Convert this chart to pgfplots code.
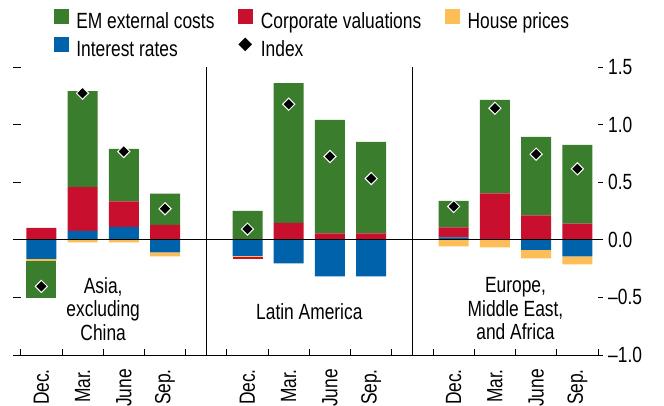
\documentclass[border=0pt]{standalone}
\usepackage{fontspec}
\setmainfont{Liberation Sans}[FakeStretch=0.79]
\usepackage{pgfplots}
\usepackage{pgfplotstable}
\pgfplotsset{compat=1.18}
\definecolor{emg}{RGB}{58,125,44}
\definecolor{cvr}{RGB}{200,16,46}
\definecolor{irb}{RGB}{0,98,170}
\definecolor{hpy}{RGB}{253,190,87}

% x: 0-3 Asia, 5-8 Latin America, 10-13 Europe/ME/Africa
\pgfplotstableread{
x  bpos  rpos  gpos  bneg    yneg    rneg    gneg    idx
0  0     0.104 0     -0.165  -0.018  0       -0.318  -0.405
1  0.078 0.380 0.833 0       -0.023  0       0       1.272
2  0.113 0.220 0.457 0       -0.023  0       0       0.766
3  0     0.130 0.270 -0.110  -0.035  0       0       0.269
5  0     0     0.250 -0.139  -0.010  -0.015  0       0.093
6  0     0.147 1.213 -0.205  0       0       0       1.177
7  0     0.055 0.985 -0.318  0       0       0       0.723
8  0     0.055 0.795 -0.318  0       0       0       0.532
10 0.020 0.087 0.231 0       -0.058  0       0       0.289
11 0     0.402 0.812 0       -0.066  0       0       1.142
12 0     0.211 0.682 -0.087  -0.075  0       0       0.743
13 0     0.141 0.683 -0.145  -0.069  0       0       0.616
}\data

\pgfplotsset{
  base/.style={at={(13pt,51pt)}, anchor=south west, scale only axis,
    width=585pt, height=288pt, xmin=-0.687, xmax=13.5, ymin=-1, ymax=1.5,
    clip=false, tick style={black, line width=0.8pt}},
}

\begin{document}
\fontsize{22}{26}\selectfont
\begin{tikzpicture}[font=\fontsize{22}{26}\selectfont]
\path[use as bounding box] (0,0) rectangle (664pt,406pt);

% negative parts + left ticks
\begin{axis}[base, ybar stacked, bar width=30pt,
  axis x line=none, axis y line*=left, y axis line style={draw=none},
  ytick={-1,-0.5,0,0.5,1,1.5}, yticklabels={}, tick align=inside,
  major tick length=8pt]
\addplot[fill=irb, draw=none] table[x=x,y=bneg]{\data};
\addplot[fill=hpy, draw=none] table[x=x,y=yneg]{\data};
\addplot[fill=cvr, draw=none] table[x=x,y=rneg]{\data};
\addplot[fill=emg, draw=none] table[x=x,y=gneg]{\data};
\end{axis}

% positive parts + x axis line and boundary ticks
\begin{axis}[base, ybar stacked, bar width=30pt,
  axis y line=none, axis x line*=bottom, x axis line style={line width=0.8pt},
  xtick={-0.5,0.5,1.5,2.5,3.5,4.5,5.5,6.5,7.5,8.5,9.5,10.5,11.5,12.5,13.5},
  xticklabels={}, tick align=inside, major tick length=6pt]
\addplot[fill=irb, draw=none] table[x=x,y=bpos]{\data};
\addplot[fill=cvr, draw=none] table[x=x,y=rpos]{\data};
\addplot[fill=emg, draw=none] table[x=x,y=gpos]{\data};
\end{axis}

% index, labels, legend
\begin{axis}[base,
  axis x line*=bottom, x axis line style={draw=none},
  axis y line*=right, y axis line style={draw=none},
  xtick={0,1,2,3,5,6,7,8,10,11,12,13},
  xticklabels={Dec.,Mar.,June,Sep.,Dec.,Mar.,June,Sep.,Dec.,Mar.,June,Sep.},
  x tick style={draw=none},
  xticklabel style={yshift=-9pt, rotate=90, anchor=east, inner sep=0pt},
  ytick={-1,-0.5,0,0.5,1,1.5},
  yticklabels={–1.0,–0.5,0.0,0.5,1.0,1.5},
  tick align=outside, major tick length=5pt,
  yticklabel style={inner sep=0pt, xshift=5pt},
  legend columns=3, legend cell align=left,
  legend style={at={(0.070,1.2014)}, anchor=north west, draw=none, fill=none,
    inner sep=0pt, outer sep=0pt, column sep=0pt, row sep=3pt,
    nodes={inner sep=0pt, text height=16pt, text depth=5pt},
    /tikz/every odd column/.append style={column sep=8pt},
    /tikz/every even column/.append style={column sep=24pt}},
]
\addlegendimage{legend image code/.code={\fill[emg] (0pt,0pt) rectangle (14pt,14pt);}}
\addlegendentry{EM external costs}
\addlegendimage{legend image code/.code={\fill[cvr] (0pt,0pt) rectangle (14pt,14pt);}}
\addlegendentry{Corporate valuations}
\addlegendimage{legend image code/.code={\fill[hpy] (0pt,0pt) rectangle (14pt,14pt);}}
\addlegendentry{House prices}
\addlegendimage{legend image code/.code={\fill[irb] (0pt,0pt) rectangle (14pt,14pt);}}
\addlegendentry{Interest rates}
\addlegendimage{legend image code/.code={\fill[black] (6.5pt,0pt) -- (13pt,6.5pt) -- (6.5pt,13pt) -- (0pt,6.5pt) -- cycle;}}
\addlegendentry{Index}

\draw[line width=0.9pt] (axis cs:-0.687,0) -- (axis cs:13.5,0);
\draw[line width=0.9pt] (axis cs:4,-1) -- (axis cs:4,1.5);
\draw[line width=0.9pt] (axis cs:9,-1) -- (axis cs:9,1.5);

\addplot[only marks, mark=square*, mark size=4.3pt,
  mark options={rotate=45, fill=black, draw=white, line width=1pt}, forget plot]
  table[x=x,y=idx]{\data};

\node[align=center, font=\fontsize{22}{23.5}\selectfont] at (axis cs:1.5,-0.6) {Asia,\\excluding\\China};
\node[align=center, font=\fontsize{22}{23.5}\selectfont] at (axis cs:6.5,-0.62) {Latin America};
\node[align=center, font=\fontsize{22}{23.5}\selectfont] at (axis cs:11.5,-0.6) {Europe,\\Middle East,\\and Africa};
\end{axis}
\end{tikzpicture}
\end{document}
